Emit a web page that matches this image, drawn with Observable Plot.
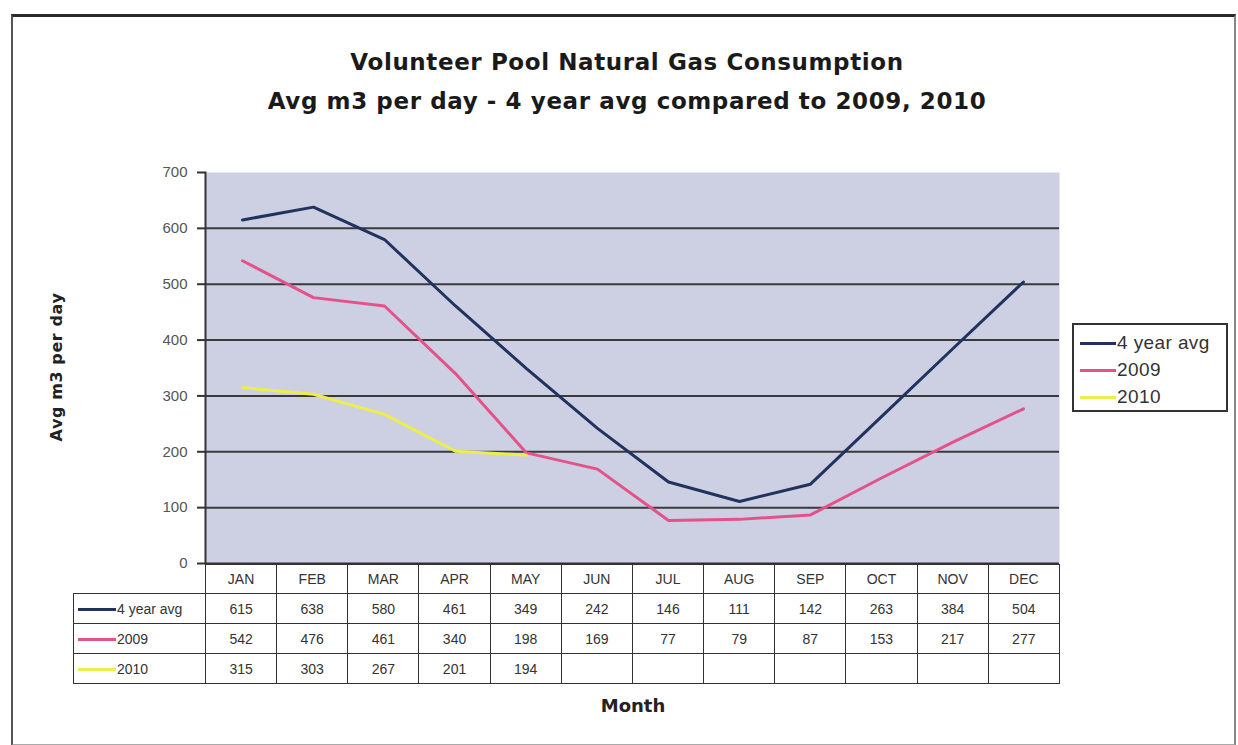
<!DOCTYPE html>
<html>
<head>
<meta charset="utf-8">
<script src="https://cdn.jsdelivr.net/npm/d3@7"></script>
<script src="https://cdn.jsdelivr.net/npm/@observablehq/plot@0.6"></script>
<style>
  html, body { margin: 0; padding: 0; background: #fff; }
  body { width: 1238px; height: 745px; overflow: hidden; font-family: "Liberation Sans", Arial, sans-serif; }
  #wrap { position: relative; width: 1238px; height: 745px; }
  #border { position: absolute; left: 11px; top: 14px; width: 1221px; height: 727px;
            border-top: 3px solid #2a2a2a; border-left: 2px solid #555; border-right: 2px solid #888; border-bottom: 2px solid #aaa; }
  #chart { position: absolute; left: 0; top: 0; }
  #title { position: absolute; left: 0; width: 1254px; top: 43px; text-align: center; font-family: "DejaVu Sans", sans-serif; font-weight: bold; font-size: 23px; letter-spacing: 0.6px; line-height: 39px; color: #1a1a1a; }
  #ylabel { position: absolute; left: 56px; top: 367px; transform: translate(-50%, -50%) rotate(-90deg); font-family: "DejaVu Sans", sans-serif; font-weight: bold; font-size: 16px; letter-spacing: 0.6px; color: #222; white-space: nowrap; }
  #xlabel { position: absolute; left: 633px; top: 705px; transform: translate(-50%, -50%); font-family: "DejaVu Sans", sans-serif; font-weight: bold; font-size: 18px; color: #222; }
  #legend { position: absolute; left: 1072px; top: 323px; width: 156px; height: 89px; border: 2px solid #333; box-sizing: border-box; padding: 4px 0 0 6px; }
  #legend div { font-size: 19px; letter-spacing: 0.4px; color: #333; height: 27px; line-height: 27px; white-space: nowrap; }
  .sw { display: inline-block; width: 36px; height: 3px; vertical-align: middle; margin-right: 1px; }
  #tbl { position: absolute; left: 73px; top: 564px; border-collapse: collapse; table-layout: fixed; }
  #tbl td { border: 1.5px solid #333; text-align: center; font-size: 14px; color: #333; padding: 0; overflow: hidden; white-space: nowrap; }
  #tbl td.lab { text-align: left; padding-left: 4px; }
  #tbl tr.head td { height: 28px; }
  #tbl tr.row td { height: 29px; }
  #tbl td.blank { border-top: none; border-left: none; }
</style>
</head>
<body>
<div id="wrap">
  <div id="border"></div>
  <div id="chart"></div>
  <div id="title">Volunteer Pool Natural Gas Consumption<br>Avg m3 per day - 4 year avg compared to 2009, 2010</div>
  <div id="ylabel">Avg m3 per day</div>
  <div id="xlabel">Month</div>
  <div id="legend"></div>
  <table id="tbl"></table>
</div>
<script>
const months = ["JAN","FEB","MAR","APR","MAY","JUN","JUL","AUG","SEP","OCT","NOV","DEC"];
const seriesNames = ["4 year avg", "2009", "2010"];
const avg4 = [615, 638, 580, 461, 349, 242, 146, 111, 142, 263, 384, 504];
const y2009 = [542, 476, 461, 340, 198, 169, 77, 79, 87, 153, 217, 277];
const y2010 = [315, 303, 267, 201, 194];
const yTicks = [0, 100, 200, 300, 400, 500, 600, 700];
const colors = ["#22325f", "#e4528a", "#eeee4a"];

const seriesValues = [avg4, y2009, y2010];
const data = [];
seriesValues.forEach((vals, i) => vals.forEach((v, j) => data.push({series: seriesNames[i], month: months[j], value: v})));

const chart = Plot.plot({
  width: 1238,
  height: 745,
  marginLeft: 205,
  marginRight: 179,
  marginTop: 172,
  marginBottom: 182,
  style: {background: "transparent", fontFamily: "Liberation Sans, Arial, sans-serif"},
  x: {type: "point", domain: months, padding: 0.5, axis: null},
  y: {domain: [0, 700], axis: null},
  color: {domain: seriesNames, range: colors},
  marks: [
    Plot.frame({fill: "#cdd0e3", stroke: null}),
    Plot.ruleY(yTicks.filter(d => d > 0 && d < 700), {stroke: "#3a3a3a", strokeWidth: 2}),
    Plot.ruleY([0], {stroke: "#333", strokeWidth: 2}),
    Plot.axisY({ticks: yTicks, tickSize: 8, tickPadding: 10, fontSize: 15, stroke: "#333", strokeWidth: 2, color: "#555", label: null}),
    Plot.frame({anchor: "left", stroke: "#333", strokeWidth: 2}),
    Plot.line(data, {x: "month", y: "value", z: "series", stroke: "series", strokeWidth: 3})
  ]
});
document.getElementById("chart").appendChild(chart);

// legend
const legend = d3.select("#legend");
seriesNames.forEach((name, i) => {
  const row = legend.append("div");
  row.append("span").attr("class", "sw").style("background", colors[i]);
  row.append("span").text(name);
});

// data table
const tbl = d3.select("#tbl");
const cg = tbl.append("colgroup");
cg.append("col").style("width", "132px");
months.forEach(() => cg.append("col").style("width", (854 / 12) + "px"));
const head = tbl.append("tr").attr("class", "head");
head.append("td").attr("class", "blank");
months.forEach(m => head.append("td").text(m));
seriesValues.forEach((vals, i) => {
  const tr = tbl.append("tr").attr("class", "row");
  const lab = tr.append("td").attr("class", "lab");
  lab.append("span").attr("class", "sw").style("background", colors[i]).style("width", "38px");
  lab.append("span").text(seriesNames[i]);
  months.forEach((m, j) => tr.append("td").text(vals[j] !== undefined ? vals[j] : ""));
});
</script>
</body>
</html>
